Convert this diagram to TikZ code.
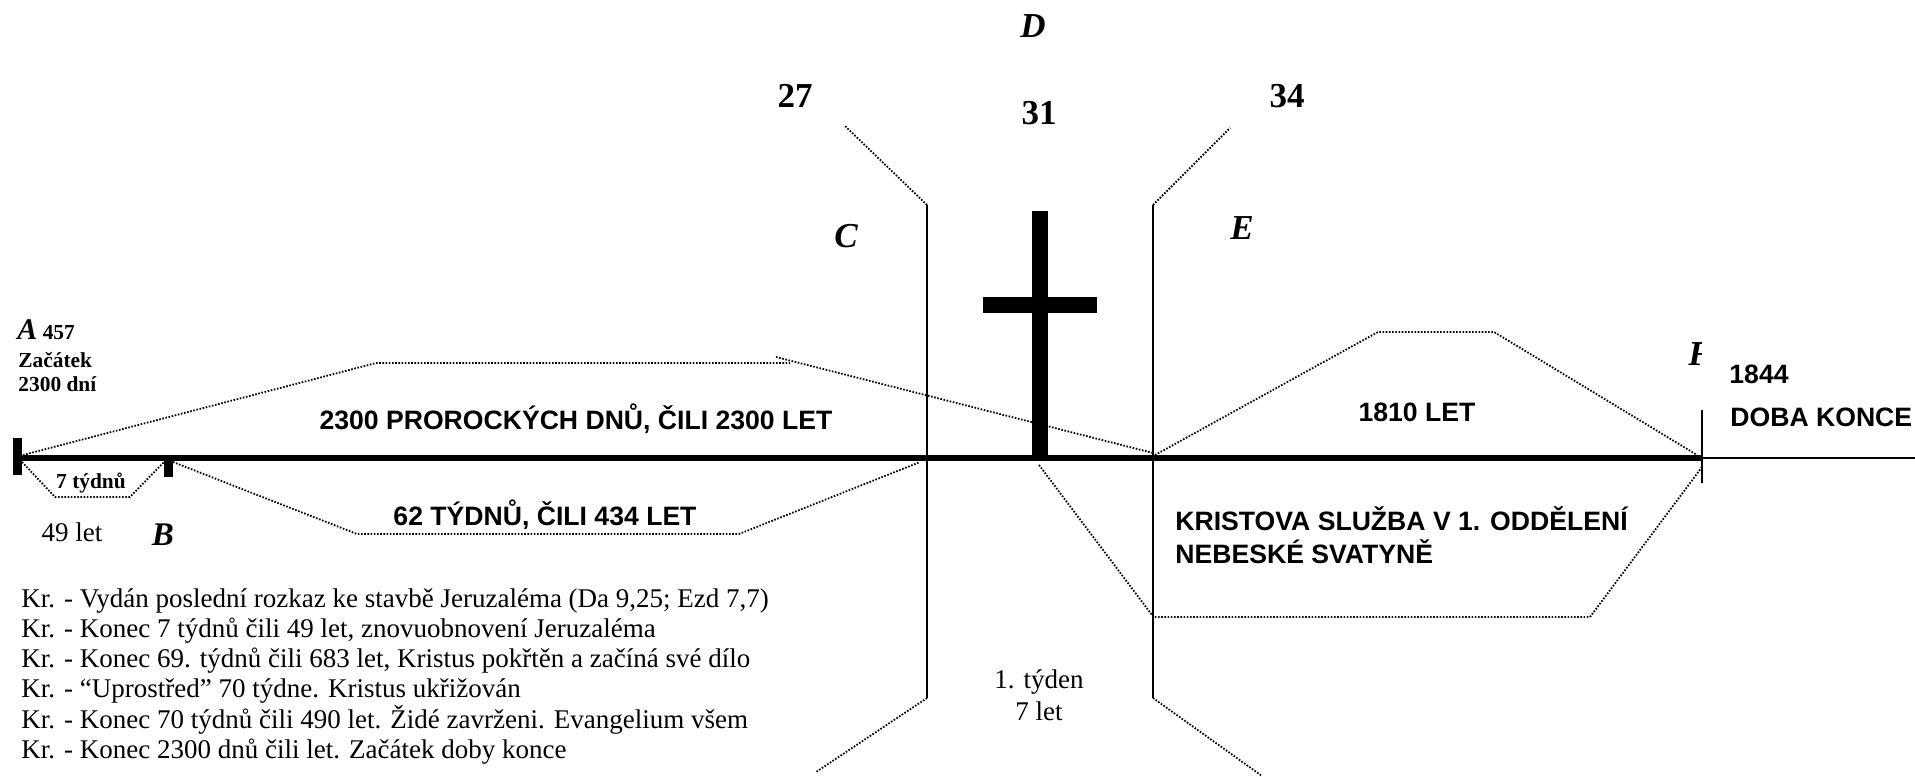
\documentclass[tikz,border=0pt]{standalone}
\usepackage{fontspec}
\setmainfont{Liberation Serif}
\setsansfont{Liberation Sans}
\usetikzlibrary{calc}
\tikzset{>=latex}
\tikzset{
  dotline/.style={line width=0.9pt, dash pattern=on 0.8pt off 0.8pt},
  axisline/.style={line width=2.8pt},
  thinline/.style={line width=0.8pt},
  yearlbl/.style={font=\fontsize{17.5}{20}\selectfont\bfseries, inner sep=0pt, anchor=base},
  letterlbl/.style={font=\fontsize{17.5}{20}\selectfont\bfseries\itshape, inner sep=0pt, anchor=base},
  capslbl/.style={font=\fontsize{13.3}{16}\selectfont\sffamily\bfseries, inner sep=0pt, anchor=base},
  notelbl/.style={font=\fontsize{13.5}{15}\selectfont, inner sep=0pt, anchor=base},
  smalllbl/.style={font=\fontsize{10.7}{12}\selectfont\bfseries, inner sep=0pt, anchor=base west}
}

\begin{document}
\begin{tikzpicture}[x=0.5pt,y=-0.5pt]
  \useasboundingbox (0,0) rectangle (1915,776);
  % time axis with ticks
  \draw[axisline] (13,458) -- (1702,458);
  \draw[thinline] (1702,458) -- (1915,458);
  \fill (13,438) rectangle (22,475);
  \fill (164,458) rectangle (173,477);
  \draw[thinline] (1702,410) -- (1702,483);
  % the 70th week
  \draw[thinline] (927,205) -- (927,698);
  \draw[thinline] (1153,205) -- (1153,698);
  \draw[dotline] (927,205) -- (845,126);
  \draw[dotline] (1153,205) -- (1230,128);
  \draw[dotline] (927,698) -- (816,772);
  \draw[dotline] (1153,698) -- (1262,776);
  % periods
  \draw[dotline] (23,455) -- (376,363) -- (790,363);
  \draw[dotline] (776,357) -- (1153,453);
  \draw[dotline] (22,462) -- (55,497) -- (130,497) -- (164,462);
  \draw[dotline] (173,462) -- (357,534) -- (739,534) -- (920,462);
  \draw[dotline] (1155,455) -- (1378,332) -- (1494,332) -- (1697,455);
  \draw[dotline] (1702,467) -- (1590,617) -- (1153,617);
  \draw[dotline] (1039,465) -- (1152,615);
  % cross
  \fill (1032,211) rectangle (1048,458);
  \fill (983,297) rectangle (1097,313);

  % letters and years
  \node[smalllbl] (nA) at (17,339) {{\fontsize{15}{17}\selectfont\itshape A} 457};
  \node[smalllbl] (zac) at (18,367) {Začátek};
  \node[smalllbl] (dni) at (18,391) {2300 dní};
  \node[smalllbl, anchor=base] (sedm) at (91,488) {7 týdnů};
  \node[notelbl] (let49) at (72,541) {49 let};
  \node[letterlbl, font=\fontsize{16.5}{18}\selectfont\bfseries\itshape] (nB) at (163,545) {B};
  \node[letterlbl] (nC) at (846,247) {C};
  \node[letterlbl] (nD) at (1033,37) {D};
  \node[letterlbl] (nE) at (1242,239) {E};
  \begin{scope}
    \clip (1680,330) rectangle (1701,372);
    \node[letterlbl, anchor=base west] (nF) at (1688,365) {F};
  \end{scope}
  \node[yearlbl] (y27) at (795,107) {27};
  \node[yearlbl] (y31) at (1039,124) {31};
  \node[yearlbl] (y34) at (1287,107) {34};

  % period labels
  \node[capslbl] (dny) at (576,429) {2300 PROROCKÝCH DNŮ, ČILI 2300 LET};
  \node[capslbl] (tydny) at (545,525) {62 TÝDNŮ, ČILI 434 LET};
  \node[capslbl] (let1810) at (1417,421) {1810 LET};
  \node[capslbl, anchor=base west] (y1844) at (1729,383) {1844};
  \node[capslbl, anchor=base west] (konec) at (1730,426) {DOBA KONCE};
  \node[capslbl, anchor=base west] (sluzba1) at (1175,530) {KRISTOVA SLUŽBA V 1. ODDĚLENÍ};
  \node[capslbl, anchor=base west] (sluzba2) at (1175,563) {NEBESKÉ SVATYNĚ};
  \node[notelbl] (tyden) at (1039,688) {1. týden};
  \node[notelbl] (let7) at (1039,720) {7 let};

  % legend
  \foreach \t [count=\i] in {%
    {Kr. - Vydán poslední rozkaz ke stavbě Jeruzaléma (Da 9,25; Ezd 7,7)},
    {Kr. - Konec 7 týdnů čili 49 let, znovuobnovení Jeruzaléma},
    {Kr. - Konec 69. týdnů čili 683 let, Kristus pokřtěn a začíná své dílo},
    {Kr. - “Uprostřed” 70 týdne. Kristus ukřižován},
    {Kr. - Konec 70 týdnů čili 490 let. Židé zavrženi. Evangelium všem},
    {Kr. - Konec 2300 dnů čili let. Začátek doby konce}}
    \node[notelbl, anchor=base west] (kr\i) at (21,{607+30.3*(\i-1)}) {\t};
\end{tikzpicture}
\end{document}
